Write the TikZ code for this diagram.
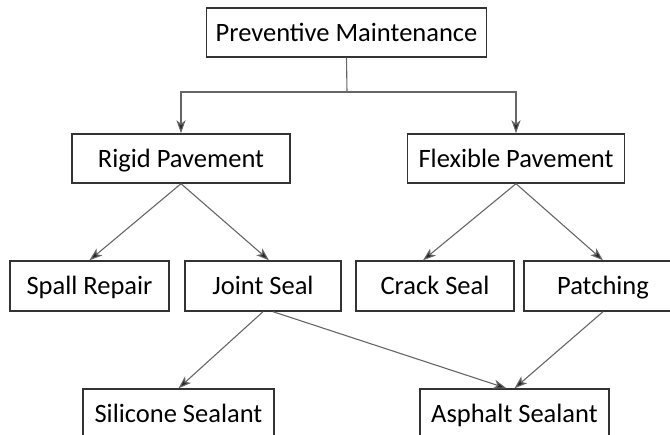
\documentclass[tikz,border=0pt]{standalone}
\usepackage{fontspec}
\setmainfont{Carlito}
\usetikzlibrary{positioning, arrows.meta}

\tikzset{
    box/.style={draw=black!80, line width=1.4pt, fill=white, minimum height=49pt, inner sep=2pt, text height=19pt, text depth=1pt, font=\fontsize{26.5}{30}\selectfont},
    conn/.style={draw=black!60, line width=1.1pt, -{Stealth[length=13pt, width=9pt, inset=3.5pt, fill=black!85]}}
}

\begin{document}
\begin{tikzpicture}[x=1pt, y=-1pt]
    \useasboundingbox (0,0) rectangle (670,435);
    % Define the nodes
    \node[box, minimum width=280pt] (prev) at (346.5,32.5) {Preventive Maintenance};
    \node[box, minimum width=218pt] (rigid) at (181,158.5) {Rigid Pavement};
    \node[box, minimum width=217pt] (flex) at (516,158.5) {Flexible Pavement};
    \node[box, minimum width=159pt, minimum height=50pt] (spall) at (89.5,286) {Spall Repair};
    \node[box, minimum width=156pt, minimum height=50pt] (joint) at (263,286) {Joint Seal};
    \node[box, minimum width=158pt, minimum height=50pt] (crack) at (435,286) {Crack Seal};
    \node[box, minimum width=158pt, minimum height=50pt] (patch) at (603,286) {Patching};
    \node[box, minimum width=191pt, minimum height=50pt] (silicone) at (178.5,414) {Silicone Sealant};
    \node[box, minimum width=189pt, minimum height=50pt] (asphalt) at (514.5,414) {Asphalt Sealant};
    \coordinate (fork) at (347,92);
    % Define the connectors
    \draw[draw=black!60, line width=1.1pt] (prev.south) -- (fork);
    \draw[conn] (fork) -| (rigid.north);
    \draw[conn] (fork) -| (flex.north);
    \draw[conn] (rigid.south) -- (spall.north);
    \draw[conn] (rigid.south) -- ([xshift=6pt]joint.north);
    \draw[conn] (flex.south) -- ([xshift=-12pt]crack.north);
    \draw[conn] (flex.south) -- (patch.north);
    \draw[conn] (joint.south) -- (silicone.north);
    \draw[conn] ([xshift=10pt]joint.south) -- ([xshift=-8pt]asphalt.north);
    \draw[conn] (patch.south) -- (asphalt.north);
\end{tikzpicture}
\end{document}
